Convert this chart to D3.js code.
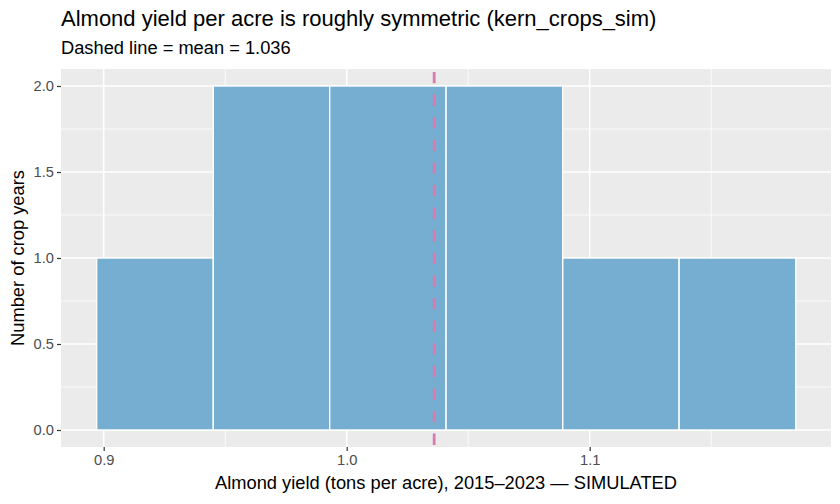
<!DOCTYPE html>
<html>
<head>
<meta charset="utf-8">
<script src="https://cdn.jsdelivr.net/npm/d3@7"></script>
<style>
  body { margin: 0; background: #fff; }
  svg text { font-family: "Liberation Sans", Arial, sans-serif; }
</style>
</head>
<body>
<div id="chart"></div>
<script>
// Histogram bins (tons per acre) and counts
const binEdges = [0.8971, 0.9451, 0.9930, 1.0409, 1.0889, 1.1368, 1.1848];
const counts = [1, 2, 2, 2, 1, 1];
const meanYield = 1.036;
const xTicks = [0.9, 1.0, 1.1];
const xMinor = [0.95, 1.05, 1.15];
const yTicks = [0, 0.5, 1.0, 1.5, 2.0];
const yMinor = [0.25, 0.75, 1.25, 1.75];

const titleText = "Almond yield per acre is roughly symmetric (kern_crops_sim)";
const subtitleText = "Dashed line = mean = 1.036";
const xTitle = "Almond yield (tons per acre), 2015\u20132023 \u2014 SIMULATED";
const yTitle = "Number of crop years";

const W = 840, H = 504;
const panel = { left: 61, right: 831, top: 69, bottom: 447 };

const svg = d3.select("#chart").append("svg")
  .attr("width", W).attr("height", H);

const x = d3.scaleLinear().domain([0.88243, 1.1993]).range([panel.left, panel.right]);
const y = d3.scaleLinear().domain([-0.0988, 2.0988]).range([panel.bottom, panel.top]);

// panel background
svg.append("rect")
  .attr("x", panel.left).attr("y", panel.top)
  .attr("width", panel.right - panel.left)
  .attr("height", panel.bottom - panel.top)
  .attr("fill", "#ebebeb");

// grid lines
const grid = svg.append("g");
grid.selectAll("line.xminor").data(xMinor).enter().append("line")
  .attr("x1", d => x(d)).attr("x2", d => x(d))
  .attr("y1", panel.top).attr("y2", panel.bottom)
  .attr("stroke", "#fff").attr("stroke-width", 0.8);
grid.selectAll("line.yminor").data(yMinor).enter().append("line")
  .attr("y1", d => y(d)).attr("y2", d => y(d))
  .attr("x1", panel.left).attr("x2", panel.right)
  .attr("stroke", "#fff").attr("stroke-width", 0.8);
grid.selectAll("line.xmajor").data(xTicks).enter().append("line")
  .attr("x1", d => x(d)).attr("x2", d => x(d))
  .attr("y1", panel.top).attr("y2", panel.bottom)
  .attr("stroke", "#fff").attr("stroke-width", 1.6);
grid.selectAll("line.ymajor").data(yTicks).enter().append("line")
  .attr("y1", d => y(d)).attr("y2", d => y(d))
  .attr("x1", panel.left).attr("x2", panel.right)
  .attr("stroke", "#fff").attr("stroke-width", 1.6);

// bars
const bins = counts.map((c, i) => ({ x0: binEdges[i], x1: binEdges[i + 1], n: c }));
svg.append("g").selectAll("rect").data(bins).enter().append("rect")
  .attr("x", d => x(d.x0))
  .attr("width", d => x(d.x1) - x(d.x0))
  .attr("y", d => y(d.n))
  .attr("height", d => y(0) - y(d.n))
  .attr("fill", "#75aed0")
  .attr("stroke", "#fff")
  .attr("stroke-width", 1.4);

// mean line
svg.append("line")
  .attr("x1", x(meanYield)).attr("x2", x(meanYield))
  .attr("y1", panel.top).attr("y2", panel.bottom)
  .attr("stroke", "#d77bb0")
  .attr("stroke-width", 2.8)
  .attr("stroke-dasharray", "11.3,11.3")
  .attr("stroke-dashoffset", 19.6);

// axes
const xAxis = svg.append("g")
  .attr("transform", `translate(0,${panel.bottom})`)
  .call(d3.axisBottom(x).tickValues(xTicks).tickFormat(d3.format(".1f")).tickSize(4).tickPadding(4));
const yAxis = svg.append("g")
  .attr("transform", `translate(${panel.left},0)`)
  .call(d3.axisLeft(y).tickValues(yTicks).tickFormat(d3.format(".1f")).tickSize(4).tickPadding(3));
[xAxis, yAxis].forEach(g => {
  g.select(".domain").remove();
  g.selectAll(".tick line").attr("stroke", "#333").attr("stroke-width", 1.2);
  g.selectAll(".tick text")
    .attr("fill", "#4d4d4d")
    .style("font-size", "14.7px")
    .style("font-family", "'Liberation Sans', Arial, sans-serif");
});

// titles
svg.append("text")
  .attr("x", panel.left).attr("y", 26)
  .style("font-size", "22px")
  .attr("fill", "#000")
  .text(titleText);
svg.append("text")
  .attr("x", panel.left).attr("y", 54)
  .style("font-size", "18.3px")
  .attr("fill", "#000")
  .text(subtitleText);
svg.append("text")
  .attr("x", (panel.left + panel.right) / 2).attr("y", 489)
  .attr("text-anchor", "middle")
  .style("font-size", "18.3px")
  .attr("fill", "#000")
  .text(xTitle);
svg.append("text")
  .attr("transform", `translate(24,${(panel.top + panel.bottom) / 2}) rotate(-90)`)
  .attr("text-anchor", "middle")
  .style("font-size", "18.3px")
  .attr("fill", "#000")
  .text(yTitle);
</script>
</body>
</html>
